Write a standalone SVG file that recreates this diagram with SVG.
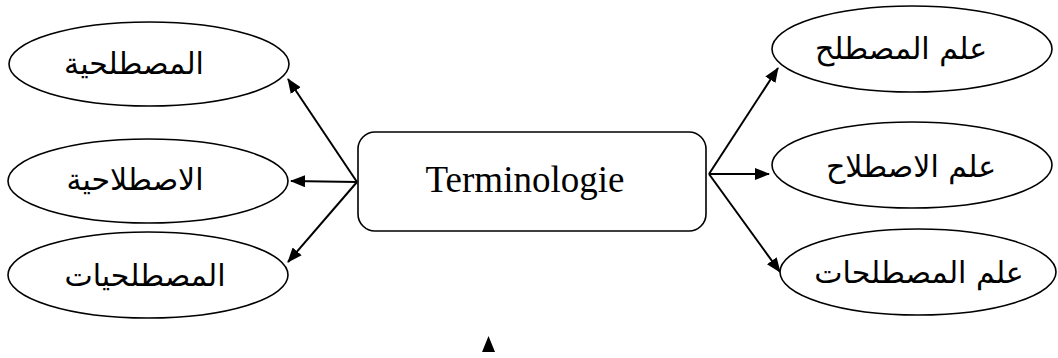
<svg xmlns="http://www.w3.org/2000/svg" width="1058" height="358" viewBox="0 0 1058 358">
<style>
.ell{fill:#fff;stroke:#000;stroke-width:1.6}
.box{fill:#fff;stroke:#000;stroke-width:1.6}
.ar{font-family:"DejaVu Sans","Liberation Sans",sans-serif;font-size:30px;fill:#000;text-anchor:middle;direction:rtl}
.lat{font-family:"Liberation Serif",serif;font-size:37px;fill:#000;text-anchor:middle}
.con{stroke:#000;stroke-width:2;fill:none;marker-end:url(#ah)}
</style>
<defs>
<marker id="ah" markerWidth="15" markerHeight="12" refX="14" refY="6" orient="auto" markerUnits="userSpaceOnUse">
<path d="M0,0 L15,6 L0,12 Z" fill="#000"/>
</marker>
</defs>
<g id="connectors">
<line class="con" x1="357" y1="182" x2="288" y2="79"/>
<line class="con" x1="357" y1="182" x2="291" y2="181"/>
<line class="con" x1="357" y1="182" x2="288" y2="262"/>
<line class="con" x1="709" y1="174" x2="778" y2="68"/>
<line class="con" x1="709" y1="174" x2="769" y2="174"/>
<line class="con" x1="709" y1="174" x2="780" y2="272"/>
</g>
<g id="center">
<rect class="box" x="358" y="132" width="348" height="99" rx="17" ry="17"/>
<text class="lat" x="525" y="192">Terminologie</text>
</g>
<g id="left1">
<ellipse class="ell" cx="149" cy="64" rx="140" ry="42"/>
<text class="ar" x="134" y="74">المصطلحية</text>
</g>
<g id="left2">
<ellipse class="ell" cx="148" cy="181" rx="140" ry="42"/>
<text class="ar" x="135" y="190">الاصطلاحية</text>
</g>
<g id="left3">
<ellipse class="ell" cx="148" cy="275" rx="140" ry="43"/>
<text class="ar" x="145" y="286">المصطلحيات</text>
</g>
<g id="right1">
<ellipse class="ell" cx="912" cy="49" rx="140" ry="43"/>
<text class="ar" x="901" y="59">علم المصطلح</text>
</g>
<g id="right2">
<ellipse class="ell" cx="912" cy="165" rx="140" ry="43"/>
<text class="ar" x="911" y="177">علم الاصطلاح</text>
</g>
<g id="right3">
<ellipse class="ell" cx="918" cy="272" rx="138" ry="43"/>
<text class="ar" x="919" y="283">علم المصطلحات</text>
</g>
<g id="mark">
<polygon points="488.5,336 482,352 495,352" fill="#000"/>
</g>
</svg>
